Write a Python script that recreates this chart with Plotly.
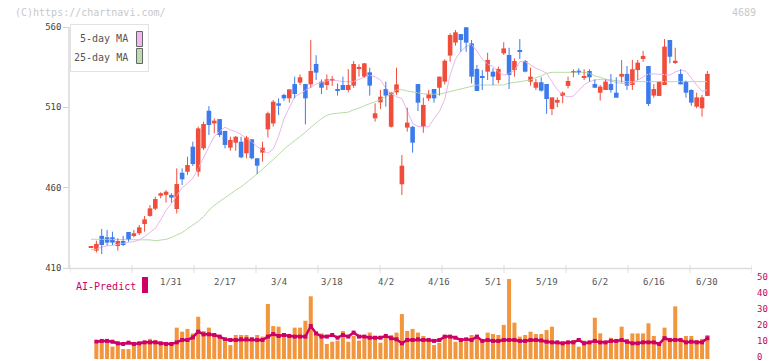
import plotly.graph_objects as go
import numpy as np

# ---------------- data ----------------
date_labels = ["1/31", "2/17", "3/4", "3/18", "4/2", "4/16", "5/1", "5/19", "6/2", "6/16", "6/30"]
label_index = [15, 25, 35, 45, 55, 65, 75, 85, 95, 105, 115]

opens = [422.9, 420.8, 430.0, 429.1, 429.1, 423.7, 426.8, 432.4, 430.5, 431.6,
         437.4, 442.4, 446.9, 455.0, 455.5, 455.5, 446.7, 469.3, 469.9, 485.5,
         469.9, 484.5, 507.9, 500.0, 502.7, 495.3, 484.9, 488.0, 488.6, 481.4,
         490.1, 478.3, 481.8, 496.3, 500.0, 512.5, 517.7, 515.6, 524.5, 525.4,
         524.5, 524.3, 537.0, 526.0, 523.9, 527.0, 521.4, 523.9, 520.8, 523.5,
         534.3, 529.1, 531.8, 503.2, 513.1, 521.4, 497.9, 519.3, 462.1, 497.4,
         497.9, 524.5, 497.9, 515.6, 521.4, 522.2, 526.0, 542.2, 550.3, 555.6,
         559.8, 549.8, 533.9, 529.5, 532.2, 532.2, 527.0, 543.6, 542.6, 533.2,
         545.7, 538.8, 526.0, 522.2, 525.6, 524.5, 509.0, 512.9, 517.1, 523.3,
         531.8, 532.8, 528.7, 532.6, 524.5, 519.1, 520.8, 524.5, 519.1, 529.1,
         530.8, 523.9, 533.2, 540.1, 535.7, 517.3, 517.1, 523.9, 551.9, 538.0,
         530.8, 526.0, 520.8, 510.4, 509.4, 517.1]
highs = [423.0, 427.0, 434.3, 433.7, 432.6, 428.5, 430.0, 432.4, 433.7, 436.8,
         442.4, 449.2, 454.4, 457.1, 458.5, 456.5, 472.0, 472.0, 479.3, 488.6,
         498.0, 501.1, 510.8, 503.2, 502.7, 495.3, 491.7, 492.2, 491.7, 492.2,
         490.1, 478.3, 488.6, 507.3, 514.6, 515.6, 518.5, 521.2, 529.1, 530.5,
         524.5, 551.9, 542.4, 527.4, 530.5, 529.5, 524.9, 529.1, 533.8, 538.8,
         536.8, 537.4, 534.7, 512.5, 520.8, 526.0, 519.3, 534.7, 480.3, 509.8,
         498.4, 524.5, 516.0, 520.8, 521.4, 529.1, 539.9, 556.1, 558.1, 555.6,
         561.9, 551.9, 536.4, 533.2, 544.0, 534.3, 535.3, 550.5, 547.1, 540.5,
         552.5, 539.5, 534.7, 527.6, 528.7, 524.5, 516.2, 516.2, 519.8, 529.1,
         533.7, 534.3, 533.7, 533.7, 527.4, 523.9, 527.4, 530.8, 528.7, 539.5,
         535.7, 539.5, 539.5, 545.1, 535.7, 524.5, 526.0, 552.5, 551.9, 547.1,
         533.7, 526.6, 521.2, 519.1, 517.7, 532.6]
lows = [422.8, 419.6, 418.7, 424.0, 424.3, 420.8, 423.7, 426.4, 429.1, 430.5,
        432.6, 441.9, 446.1, 453.4, 450.7, 450.7, 444.0, 461.7, 467.9, 473.5,
        466.9, 483.5, 492.8, 493.8, 491.5, 484.5, 483.0, 483.0, 478.3, 478.3,
        477.6, 468.5, 476.2, 491.3, 498.0, 505.2, 514.0, 512.9, 515.6, 523.9,
        499.4, 522.2, 527.0, 518.3, 520.8, 523.3, 517.3, 520.8, 519.3, 522.2,
        529.1, 528.5, 517.3, 501.1, 509.0, 510.4, 497.4, 517.7, 455.4, 494.9,
        481.8, 507.7, 494.2, 513.9, 512.9, 517.3, 524.3, 538.4, 548.4, 544.6,
        544.6, 524.9, 520.2, 520.8, 527.0, 523.9, 524.9, 542.6, 521.4, 529.1,
        540.1, 531.8, 523.5, 520.8, 519.8, 505.9, 505.2, 510.0, 512.5, 521.8,
        528.7, 530.1, 527.0, 526.0, 522.2, 514.2, 520.8, 519.1, 516.0, 525.4,
        520.8, 520.8, 527.0, 538.4, 510.8, 516.0, 517.1, 523.9, 537.4, 537.0,
        524.3, 516.0, 511.0, 509.4, 504.2, 517.1]
closes = [422.9, 425.0, 424.3, 425.8, 425.8, 426.8, 424.3, 427.4, 431.6, 435.3,
          440.3, 447.1, 452.9, 456.5, 457.5, 453.8, 462.3, 465.2, 474.1, 474.7,
          496.9, 499.6, 499.0, 501.7, 492.8, 486.6, 489.7, 491.7, 478.9, 491.3,
          478.3, 473.7, 484.9, 506.3, 513.5, 511.0, 515.6, 521.2, 518.3, 528.7,
          515.6, 532.6, 531.6, 522.2, 527.4, 527.4, 520.4, 520.8, 523.9, 537.0,
          535.1, 537.4, 523.5, 506.3, 516.6, 517.3, 519.3, 524.3, 473.7, 500.5,
          488.0, 512.9, 511.5, 518.1, 515.6, 529.1, 539.0, 555.0, 556.7, 551.9,
          550.3, 529.1, 520.2, 528.5, 539.5, 529.1, 533.9, 546.7, 530.1, 538.8,
          544.7, 532.2, 529.1, 525.6, 520.4, 515.2, 516.2, 514.6, 519.1, 526.4,
          532.2, 531.6, 529.5, 528.7, 522.2, 522.9, 526.0, 520.8, 516.0, 530.8,
          523.5, 533.7, 537.8, 542.0, 512.1, 521.4, 526.0, 547.8, 541.5, 539.0,
          524.3, 519.1, 512.9, 516.2, 516.2, 530.8]

ma5 = [421.5, 421.6, 423.0, 423.8, 424.1, 424.8, 425.4, 426.0, 426.4, 427.5,
       429.5, 432.0, 434.7, 439.9, 446.0, 450.0, 455.0, 460.0, 462.7, 465.8,
       472.0, 479.0, 486.0, 492.0, 495.0, 497.6, 496.0, 494.9, 493.0, 491.0,
       488.6, 485.5, 483.4, 481.4, 484.0, 492.0, 503.0, 510.0, 516.6, 518.5,
       520.5, 523.0, 524.5, 525.5, 526.5, 527.0, 526.5, 526.0, 526.0, 526.0,
       527.5, 529.0, 530.0, 529.0, 527.0, 522.0, 518.5, 516.6, 515.5, 508.0,
       500.0, 498.0, 497.9, 497.9, 503.0, 507.3, 515.0, 530.0, 540.0, 545.0,
       547.8, 549.2, 545.0, 540.0, 537.0, 535.3, 532.0, 530.0, 531.0, 533.0,
       538.4, 538.4, 536.5, 534.3, 533.0, 531.2, 526.0, 521.0, 517.7, 516.5,
       517.0, 520.8, 524.0, 526.0, 527.0, 527.4, 527.0, 526.5, 525.4, 524.8,
       524.5, 525.0, 527.0, 528.5, 530.8, 530.8, 530.5, 530.1, 530.1, 532.0,
       533.2, 532.5, 528.0, 523.9, 520.0, 520.8]
ma25 = [427.9, 427.9, 427.9, 427.9, 427.9, 427.9, 427.9, 427.9, 427.9, 427.9,
        427.9, 427.5, 427.0, 427.2, 427.8, 429.0, 430.5, 432.0, 434.5, 436.5,
        439.0, 442.0, 446.0, 449.0, 451.5, 454.0, 456.5, 458.5, 460.5, 463.0,
        465.8, 468.5, 471.5, 474.5, 477.2, 480.5, 484.0, 486.5, 489.0, 491.5,
        494.5, 497.5, 500.5, 503.0, 505.0, 506.0, 506.3, 506.5, 507.0, 508.5,
        509.5, 511.0, 512.5, 513.5, 514.8, 516.5, 518.5, 521.0, 521.0, 520.2,
        519.5, 518.7, 518.4, 518.3, 518.2, 518.1, 519.0, 519.8, 520.8, 521.8,
        522.5, 523.3, 523.9, 523.9, 523.9, 523.9, 523.9, 523.9, 525.0, 525.6,
        526.0, 526.5, 527.0, 528.5, 529.5, 531.2, 531.8, 531.8, 531.8, 531.8,
        531.8, 531.8, 531.8, 531.2, 529.5, 528.7, 527.5, 527.0, 526.5, 526.2,
        526.0, 526.0, 526.0, 526.0, 526.0, 526.0, 526.0, 526.0, 526.0, 526.0,
        526.0, 526.0, 526.0, 526.0, 526.0, 526.0]

volume = [None, 9.4, 10.8, 10.8, 7.7, 9.4, 6.2, 6.2, 9.4, 9.4,
          10.8, 12.6, 11.9, 10.2, 8.3, 9.4, 19.6, 17.1, 18.8, 16.0,
          26.4, 17.5, 19.6, 14.6, 14.4, 10.8, 8.7, 15.0, 15.0, 15.0,
          13.3, 15.0, 14.0, 34.4, 20.6, 20.2, 16.0, 15.0, 19.6, 19.6,
          23.9, 39.2, 16.0, 16.0, 9.4, 10.8, 11.5, 17.5, 10.8, 14.4,
          11.5, 13.0, 16.5, 14.4, 10.2, 14.0, 15.0, 16.5, 28.1, 17.5,
          18.8, 16.5, 14.4, 11.9, 8.7, 10.2, 15.0, 14.0, 10.8, 13.0,
          10.8, 15.0, 15.0, 10.8, 16.5, 15.6, 15.0, 21.3, 50.0, 22.7,
          14.0, 15.0, 17.1, 15.6, 15.6, 18.1, 20.2, 10.8, 10.8, 10.8,
          11.9, 7.7, 11.5, 10.8, 25.8, 16.0, 10.8, 13.3, 10.8, 20.2,
          12.6, 16.0, 16.0, 16.0, 22.3, 14.4, 8.7, 19.6, 11.5, 32.9,
          10.8, 14.4, 14.4, 11.9, 12.6, 15.0]
ai_predict = [None, 10.8, 11.3, 11.3, 10.8, 9.8, 9.4, 10.2, 9.4, 9.8,
              10.4, 10.4, 10.4, 9.8, 9.4, 9.4, 10.4, 11.9, 11.9, 13.5,
              17.1, 15.4, 15.4, 15.0, 14.0, 12.3, 11.9, 11.9, 12.3, 12.3,
              12.3, 11.9, 11.9, 14.0, 15.6, 14.4, 15.0, 14.4, 14.0, 14.0,
              14.0, 20.6, 16.0, 14.0, 14.0, 15.0, 13.3, 15.0, 14.0, 16.5,
              14.0, 14.0, 13.3, 13.3, 13.3, 14.4, 13.0, 12.3, 9.8, 11.9,
              11.9, 12.3, 11.9, 11.9, 11.3, 11.9, 14.0, 14.0, 13.3, 11.9,
              12.3, 11.9, 14.0, 11.3, 11.9, 11.3, 11.3, 11.9, 11.9, 11.9,
              11.3, 11.3, 11.9, 11.9, 11.6, 10.8, 10.4, 10.4, 9.8, 10.4,
              10.4, 11.9, 9.8, 10.4, 11.3, 10.4, 10.4, 11.3, 11.3, 11.9,
              10.8, 9.8, 9.8, 10.4, 10.4, 10.4, 9.4, 13.0, 11.9, 11.9,
              11.9, 10.4, 10.8, 10.4, 10.4, 13.0]

price_ticks = [410, 460, 510, 560]
vol_ticks = [0, 10, 20, 30, 40, 50]

# ---------------- styling / layout ----------------
W, H = 772, 361
FONT = "DejaVu Sans Mono"
RED = "#f04e3c"
BLUE = "#3d7bec"
PINK = "#ebb6eb"
GREEN = "#b6dca6"
ORANGE = "#f2963e"
CRIMSON = "#cc0066"


def fy(p):  # pixel row -> paper fraction
    return (H - p) / H


def fx(p):
    return p / W


X0, X1 = 70, 752          # plot area in pixels
I0PX, STEP = 91.0, 5.36   # pixel of first candle and spacing
xr = [(X0 - I0PX) / STEP, (X1 - I0PX) / STEP]

n = len(opens)
idx = list(range(n))
up = [c >= o for o, c in zip(opens, closes)]

fig = go.Figure()

# moving averages
fig.add_trace(go.Scatter(x=idx, y=ma25, mode="lines", line=dict(color=GREEN, width=1),
                         hoverinfo="skip", showlegend=False))
fig.add_trace(go.Scatter(x=idx, y=ma5, mode="lines", line=dict(color=PINK, width=1),
                         hoverinfo="skip", showlegend=False))

# wicks
for color, flag in ((RED, True), (BLUE, False)):
    xs, ys = [], []
    for i in idx:
        if up[i] == flag and highs[i] > lows[i]:
            xs += [i, i, None]
            ys += [lows[i], highs[i], None]
    fig.add_trace(go.Scatter(x=xs, y=ys, mode="lines", line=dict(color=color, width=1),
                             hoverinfo="skip", showlegend=False))

# bodies
for color, flag in ((RED, True), (BLUE, False)):
    sel = [i for i in idx if up[i] == flag]
    fig.add_trace(go.Bar(
        x=sel,
        base=[min(opens[i], closes[i]) for i in sel],
        y=[max(abs(closes[i] - opens[i]), 0.7) for i in sel],
        width=0.86, marker=dict(color=color, line=dict(width=0)),
        hoverinfo="skip", showlegend=False))

# volume + AI-predict
fig.add_trace(go.Bar(x=idx, y=volume, xaxis="x2", yaxis="y2", width=0.75,
                     marker=dict(color=ORANGE, line=dict(width=0)),
                     hoverinfo="skip", showlegend=False))
fig.add_trace(go.Scatter(x=idx, y=ai_predict, xaxis="x2", yaxis="y2", mode="lines+markers",
                         line=dict(color=CRIMSON, width=2.5),
                         marker=dict(symbol="square", size=4, color=CRIMSON),
                         hoverinfo="skip", showlegend=False))

shapes = []
# x-axis tick marks crossing the bottom line
for t in np.linspace(xr[0], xr[1], 12):
    shapes.append(dict(type="line", xref="x", yref="paper", x0=t, x1=t,
                       y0=fy(273), y1=fy(265), line=dict(color="#dddddd", width=1)))
# bottom axis line (extends a bit left of y axis)
shapes.append(dict(type="line", xref="paper", yref="paper", x0=fx(65), x1=fx(X1),
                   y0=fy(268.5), y1=fy(268.5), line=dict(color="#dddddd", width=1.5)))
# legend box + swatches
shapes.append(dict(type="rect", xref="paper", yref="paper", x0=fx(70.5), x1=fx(148.5),
                   y0=fy(71.5), y1=fy(24.5), line=dict(color="#e2e2e2", width=1),
                   fillcolor="white", layer="above"))
shapes.append(dict(type="rect", xref="paper", yref="paper", x0=fx(136.5), x1=fx(142.5),
                   y0=fy(46.5), y1=fy(31.5), line=dict(color="#666666", width=1),
                   fillcolor="#f0b8ee", layer="above"))
shapes.append(dict(type="rect", xref="paper", yref="paper", x0=fx(136.5), x1=fx(142.5),
                   y0=fy(63.5), y1=fy(48.5), line=dict(color="#666666", width=1),
                   fillcolor="#bcdeae", layer="above"))
# AI-Predict marker
shapes.append(dict(type="rect", xref="paper", yref="paper", x0=fx(142), x1=fx(148),
                   y0=fy(293), y1=fy(277), line=dict(width=0), fillcolor=CRIMSON))

ann = []
for lbl, li in zip(date_labels, label_index):
    ann.append(dict(x=li, y=fy(282), xref="x", yref="paper", text=lbl, showarrow=False,
                    xanchor="center", yanchor="middle",
                    font=dict(family=FONT, size=9, color="#555555")))
ann += [
    dict(x=fx(13), y=fy(12), xref="paper", yref="paper", text="(C)https://chartnavi.com/",
         showarrow=False, xanchor="left", yanchor="middle",
         font=dict(family=FONT, size=10, color="#c8c8c8")),
    dict(x=fx(758), y=fy(12), xref="paper", yref="paper", text="4689",
         showarrow=False, xanchor="right", yanchor="middle",
         font=dict(family=FONT, size=10, color="#c8c8c8")),
    dict(x=fx(130), y=fy(39), xref="paper", yref="paper", text="5-day MA",
         showarrow=False, xanchor="right", yanchor="middle",
         font=dict(family=FONT, size=10, color="#555555")),
    dict(x=fx(130), y=fy(57), xref="paper", yref="paper", text="25-day MA",
         showarrow=False, xanchor="right", yanchor="middle",
         font=dict(family=FONT, size=10, color="#555555")),
    dict(x=fx(74), y=fy(286), xref="paper", yref="paper", text="AI-Predict",
         showarrow=False, xanchor="left", yanchor="middle",
         font=dict(family=FONT, size=10, color=CRIMSON)),
]

fig.update_layout(
    width=W, height=H, margin=dict(l=0, r=0, t=0, b=0, autoexpand=False),
    paper_bgcolor="white", plot_bgcolor="white",
    barmode="overlay", showlegend=False,
    xaxis=dict(domain=[fx(X0), fx(X1)], range=xr, showticklabels=False, showgrid=False,
               zeroline=False, showline=False, ticks="", anchor="y", automargin=False),
    xaxis2=dict(domain=[fx(X0), fx(X1)], range=xr, matches="x", visible=False, anchor="y2",
                automargin=False),
    yaxis=dict(domain=[fy(268), fy(27)], range=[410, 560], tickvals=price_ticks,
               ticks="outside", ticklen=5, tickcolor="#d0d0d0", showline=True,
               linecolor="#e2e2e2", linewidth=1.5, showgrid=False, zeroline=False,
               tickfont=dict(family=FONT, size=9, color="#444444"), anchor="x",
               automargin=False),
    yaxis2=dict(domain=[fy(359), fy(279)], range=[0, 50], tickvals=vol_ticks, side="right",
                ticks="", showline=False, showgrid=False, zeroline=False, anchor="x2",
                ticklabeloverflow="allow", ticklabelshift=-2, ticklabelstandoff=4,
                tickfont=dict(family=FONT, size=9, color=CRIMSON), automargin=False),
    shapes=shapes, annotations=ann,
)

fig.write_html("out.html", config={"displayModeBar": False},
               post_script="document.body.style.margin='0';document.body.style.overflow='hidden';")
